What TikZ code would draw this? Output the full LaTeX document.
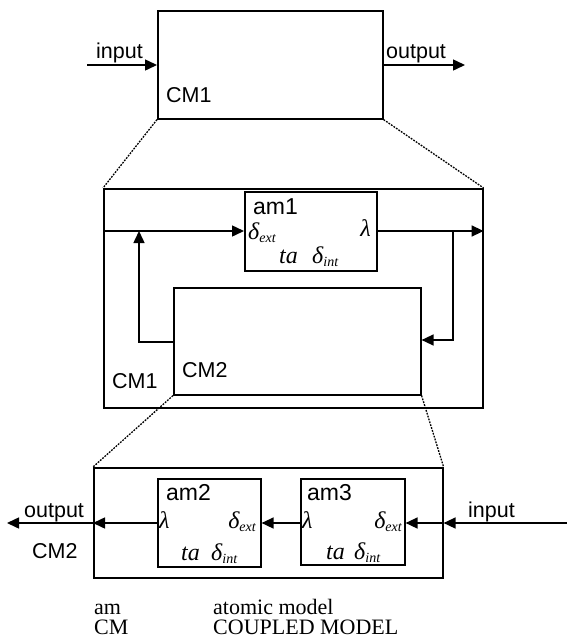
\documentclass[tikz,border=0pt]{standalone}
\usepackage{fontspec}
\setmainfont{Liberation Serif}
\setsansfont{Liberation Sans}
\usetikzlibrary{arrows.meta}
\newcommand{\sflab}{\sffamily\fontsize{21.5}{24}\selectfont}
\newcommand{\amlab}{\sffamily\fontsize{23}{25}\selectfont}
\newcommand{\mlab}{\rmfamily\itshape\fontsize{24}{26}\selectfont}
\newcommand{\legfont}{\rmfamily\fontsize{22}{24}\selectfont}
\newcommand{\subs}[1]{\raisebox{-0.16em}{\fontsize{14}{15}\selectfont #1}}
\newcommand{\dext}{δ\subs{ext}}
\newcommand{\dint}{δ\subs{int}}
\begin{document}
\begin{tikzpicture}[x=1pt,y=-1pt,
  box/.style={draw,line width=1.6pt,inner sep=0pt,anchor=north west},
  conn/.style={line width=1.5pt},
  arr/.style={conn,-{Triangle[length=12pt,width=11pt]}},
  zoomline/.style={line width=1.3pt,dash pattern=on 1.8pt off 1.2pt},
  lab/.style={anchor=base west,inner sep=0pt,font=\sflab},
  amname/.style={anchor=base west,inner sep=0pt,font=\amlab},
  mth/.style={anchor=base west,inner sep=0pt,font=\mlab},
  leg/.style={anchor=base west,inner sep=0pt,font=\legfont}]
\useasboundingbox (0,0) rectangle (567,643);
% top level
\node[box,minimum width=225pt,minimum height=108pt] (cm1top) at (157,10) {};
\coordinate (inS) at (87,65);
\coordinate (outE) at (465,65);
\draw[arr] (inS) -- (inS -| cm1top.west);
\draw[arr] (cm1top.east |- outE) -- (outE);
\node[lab] (tin) at (96,58) {input};
\node[lab] (tout) at (386,58) {output};
\node[lab] (tcm1) at (166,102) {CM1};
% middle level
\node[box,minimum width=379pt,minimum height=219pt] (cm1) at (103,188) {};
\node[box,minimum width=132pt,minimum height=79pt] (am1) at (244,191) {};
\node[box,minimum width=247pt,minimum height=107pt] (cm2m) at (173,287) {};
\draw[zoomline] (cm1top.south west) -- (cm1.north west);
\draw[zoomline] (cm1top.south east) -- (cm1.north east);
\coordinate (yl) at (0,231);
\draw[arr] (cm1.west |- yl) -- (am1.west |- yl);
\draw[arr] (am1.east |- yl) -- (cm1.east |- yl);
\coordinate (bl) at (139,231);
\coordinate (br) at (453,231);
\coordinate (yb1) at (0,342);
\coordinate (yb2) at (0,340);
\draw[arr] (cm2m.west |- yb1) -| (bl);
\draw[arr] (br) |- (cm2m.east |- yb2);
\node[amname] (tam1) at (253,214) {am1};
\node[mth] (am1dext) at (248,239) {\dext};
\node[mth,anchor=base east] (am1lam) at (371,236) {λ};
\node[mth] (am1ta) at (279,263) {ta};
\node[mth] (am1dint) at (312,263) {\dint};
\node[lab] (tcm1b) at (112,388) {CM1};
\node[lab] (tcm2m) at (182,377) {CM2};
% bottom level
\node[box,minimum width=349pt,minimum height=110pt] (cm2) at (93,467) {};
\node[box,minimum width=103pt,minimum height=88pt] (am2) at (157,478) {};
\node[box,minimum width=104pt,minimum height=86pt] (am3) at (300,478) {};
\draw[zoomline] (cm2m.south west) -- (cm2.north west);
\draw[zoomline] (cm2m.south east) -- (cm2.north east);
\coordinate (ya) at (0,523);
\coordinate (outW) at (7,523);
\coordinate (inE) at (567,523);
\draw[arr] (am2.west |- ya) -- (cm2.west |- ya);
\draw[arr] (cm2.west |- ya) -- (outW);
\draw[arr] (am3.west |- ya) -- (am2.east |- ya);
\draw[arr] (inE) -- (cm2.east |- ya);
\draw[arr] (cm2.east |- ya) -- (am3.east |- ya);
\node[lab] (tout2) at (24,517) {output};
\node[lab] (tin2) at (468,517) {input};
\node[amname] (tam2) at (166,500) {am2};
\node[amname] (tam3) at (307,500) {am3};
\node[mth] (am2lam) at (159,528) {λ};
\node[mth,anchor=base east] (am2dext) at (256,528) {\dext};
\node[mth] (am3lam) at (302,528) {λ};
\node[mth,anchor=base east] (am3dext) at (402,528) {\dext};
\node[lab] (tcm2) at (32,558) {CM2};
\node[mth] (am2ta) at (181,560) {ta};
\node[mth] (am2dint) at (211,560) {\dint};
\node[mth] (am3ta) at (326,559) {ta};
\node[mth] (am3dint) at (354,559) {\dint};
% legend
\node[leg] (l1) at (94,614) {am};
\node[leg] (l2) at (213,614) {atomic model};
\node[leg] (l3) at (94,634) {CM};
\node[leg] (l4) at (213,634) {COUPLED MODEL};
\end{tikzpicture}
\end{document}
